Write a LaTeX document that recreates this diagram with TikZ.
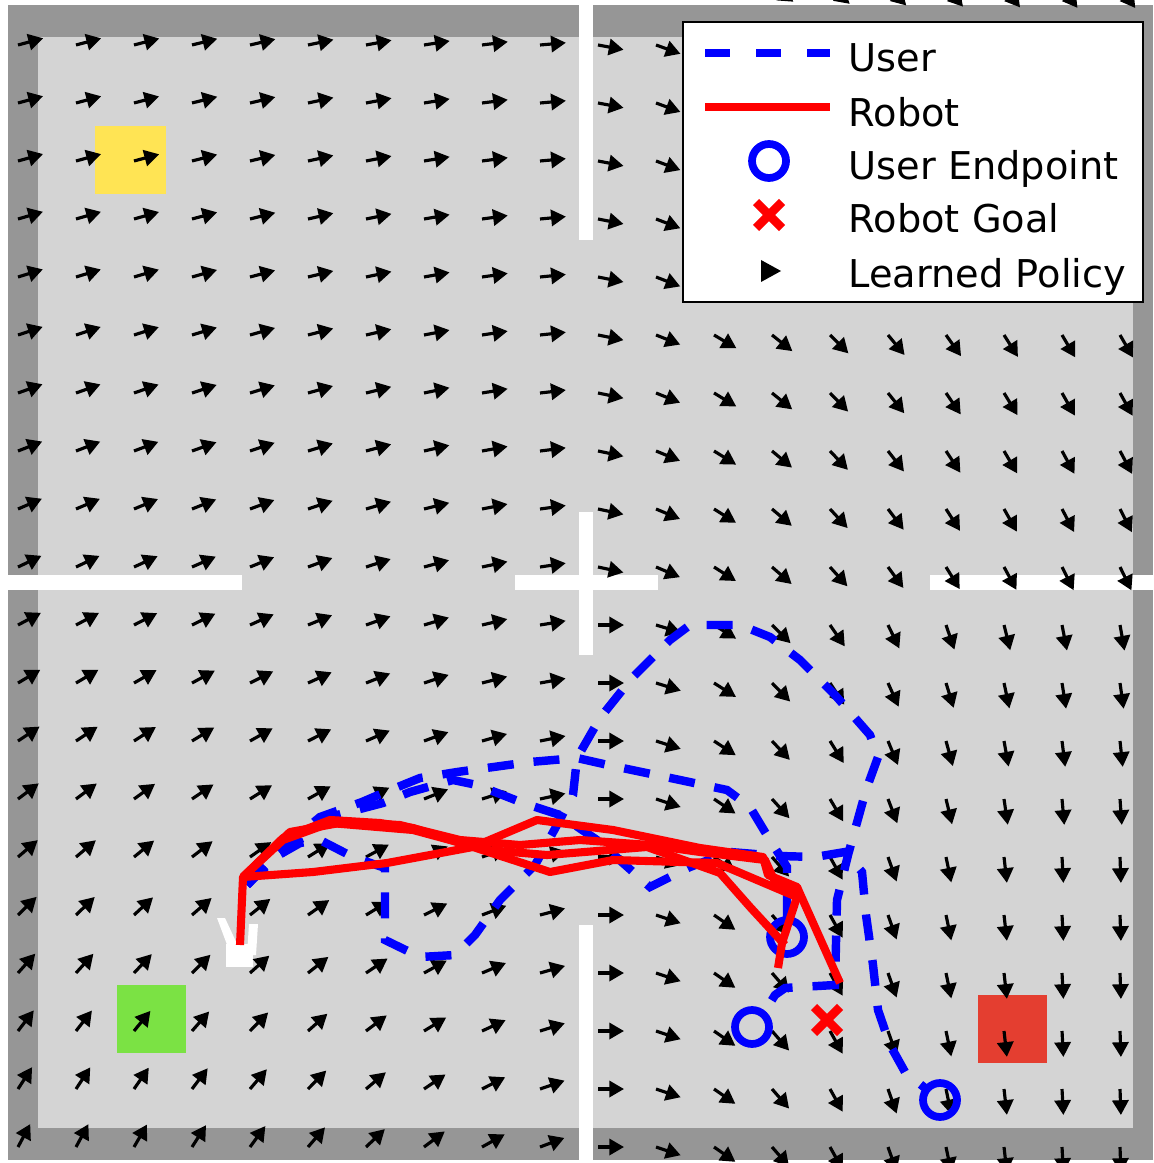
\documentclass[tikz,border=0pt]{standalone}
\usepackage{fontspec}
\setmainfont{DejaVu Sans}
\usetikzlibrary{arrows.meta}

\definecolor{FloorGray}{RGB}{212,212,212}
\definecolor{WallGray}{RGB}{150,150,150}
\definecolor{GoalYellow}{RGB}{255,228,84}
\definecolor{GoalGreen}{RGB}{123,226,68}
\definecolor{GoalRed}{RGB}{228,62,48}

\begin{document}
\begin{tikzpicture}[x=0.1mm, y=-0.1mm,
    every node/.style={font=\fontsize{10.9pt}{13pt}\selectfont, inner sep=0pt},
    policy/.style={-{Triangle[length=4.2pt,width=4.6pt]}, line width=0.9pt, black},
    user/.style={blue, line width=2.4pt, dash pattern=on 2.6mm off 2mm},
    robot/.style={red, line width=2.3pt, line join=round},
    endpt/.style={blue, line width=2.2pt},
    goalx/.style={red, line width=2.5pt},
    wall/.style={fill=white}
]
\useasboundingbox (0,0) rectangle (1153,1163);
\clip (0,0) rectangle (1153,1163);
% room and walls
\fill[WallGray] (8,5) rectangle (1153,1160);
\fill[FloorGray] (38,37) rectangle (1133,1128);
\fill[wall] (579,0) rectangle (593,240);
\fill[wall] (8,575) rectangle (242,590);
\fill[wall] (579,512) rectangle (593,655);
\fill[wall] (515,575) rectangle (658,590);
\fill[wall] (930,575) rectangle (1153,590);
\fill[wall] (579,925) rectangle (593,1160);
% goal squares
\fill[GoalYellow] (95,126) rectangle (166,194);
\fill[GoalGreen] (117,985) rectangle (186,1053);
\fill[GoalRed] (978,995) rectangle (1047,1063);
% robot
\fill[white] (217,918) -- (225,918) -- (238,946) -- (229,950) -- cycle;
\fill[white] (249,924) -- (258,924) -- (256,955) -- (247,955) -- cycle;
\fill[white] (226,944) rectangle (253,967);
% learned policy
\foreach \j in {-1,...,19}
  \foreach \i in {0,...,19} {
    \pgfmathsetmacro{\ang}{\i<10 ? (15+0.13*\j*\j)*(1-(\i/11)^2)
      : (\j<10 ? -(55+\j)*(1-(1-(\i-9)/10)^2)
      : -min(88,60+2*\j)*(1-(1-(\i-10)/9)^2))}
    \draw[policy] ({18+58*\i},{45+58*\j}) -- ++({-\ang}:26);
  }
% user paths
\draw[user] (247,885) -- (270,860) -- (300,843) -- (320,840) -- (353,857) -- (385,868)
  -- (385,940) -- (420,957) -- (455,955) -- (475,935) -- (500,900) -- (535,865)
  -- (557,825) -- (573,795) -- (577,758) -- (600,718) -- (632,678) -- (670,640)
  -- (690,625) -- (740,625) -- (770,637) -- (800,660) -- (835,695) -- (870,735)
  -- (878,757) -- (866,790) -- (848,855) -- (837,900) -- (835,985) -- (800,987)
  -- (785,988) -- (775,995) -- (767,1008);
\draw[user] (247,885) -- (275,858) -- (310,832) -- (337,815) -- (383,803) -- (410,792)
  -- (453,780) -- (477,785) -- (523,803) -- (560,815) -- (597,840) -- (650,887)
  -- (690,867) -- (730,852) -- (780,856) -- (815,857) -- (845,852) -- (862,872)
  -- (866,915) -- (873,965) -- (878,1010) -- (890,1045) -- (905,1072) -- (925,1088);
\draw[user] (247,885) -- (280,850) -- (320,817) -- (362,802) -- (383,793) -- (420,778)
  -- (457,772) -- (530,762) -- (577,758) -- (608,765) -- (680,780) -- (727,790)
  -- (750,807) -- (765,832) -- (787,867) -- (787,920);
% user endpoints
\draw[endpt] (787,937) circle (17);
\draw[endpt] (752,1027) circle (17);
\draw[endpt] (940,1100) circle (17);
% robot paths
\draw[robot] (240,945) -- (243,877) -- (283,838) -- (330,820) -- (380,823) -- (413,828)
  -- (473,847) -- (537,820) -- (613,830) -- (700,848) -- (763,857) -- (768,875)
  -- (797,887) -- (840,983);
\draw[robot] (243,877) -- (313,872) -- (387,863) -- (473,847) -- (550,872) -- (613,860)
  -- (680,862) -- (717,863) -- (797,897) -- (782,943) -- (778,968);
\draw[robot] (243,877) -- (283,840) -- (330,823) -- (413,830) -- (487,850) -- (547,855)
  -- (647,847) -- (720,873) -- (750,907) -- (785,945);
\draw[robot] (243,877) -- (290,832) -- (345,822) -- (400,825) -- (460,840) -- (520,845)
  -- (580,840) -- (650,845) -- (700,852) -- (765,860) -- (775,882) -- (800,890);
% robot goal
\draw[goalx] (814,1007) -- (840,1033) (814,1033) -- (840,1007);
% legend
\draw[fill=white, line width=0.6pt] (683,22) rectangle (1143,302);
\draw[user, dash pattern=on 2.5mm off 2.6mm] (705,53) -- (830,53);
\draw[robot] (705,107) -- (830,107);
\draw[endpt] (769,161) circle (17);
\draw[goalx] (756,202) -- (782,228) (756,228) -- (782,202);
\fill (761,260) -- (781,271) -- (761,282) -- cycle;
\node[anchor=base west] (lgUser) at (848,72) {User};
\node[anchor=base west] (lgRobot) at (848,127) {Robot};
\node[anchor=base west] (lgEnd) at (848,180) {User Endpoint};
\node[anchor=base west] (lgGoal) at (848,233) {Robot Goal};
\node[anchor=base west] (lgPolicy) at (848,288) {Learned Policy};
\end{tikzpicture}
\end{document}
